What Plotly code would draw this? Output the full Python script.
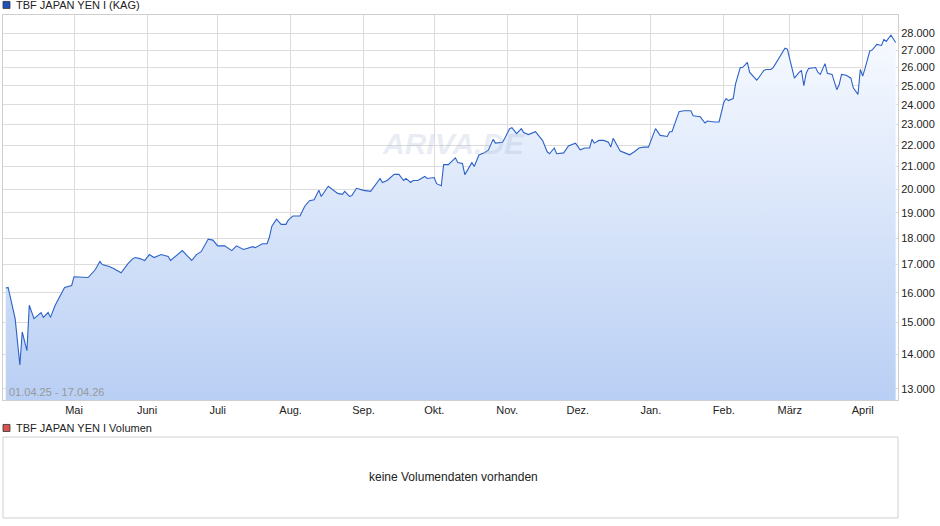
import numpy as np
import pandas as pd
import plotly.graph_objects as go

START = pd.Timestamp("2025-04-01")

# Tage seit 01.04.25 und Kurs
day_offsets = [1, 2, 5, 7, 8, 10, 11, 13, 16, 17, 19, 20, 22, 23, 25, 26, 29, 30, 36, 38,
               39, 41, 42, 45, 47, 50, 53, 55, 56, 58, 60, 62, 64, 67, 70, 71, 76, 80, 82, 84,
               86, 87, 89, 91, 94, 97, 99, 102, 106, 107, 110, 112, 113, 114, 116, 118, 120, 121, 123, 126,
               128, 130, 132, 134, 135, 138, 142, 144, 145, 147, 148, 150, 153, 156, 160, 161, 163, 166, 168, 170,
               171, 173, 174, 176, 179, 180, 183, 184, 186, 187, 189, 192, 193, 195, 196, 198, 199, 200, 202, 204,
               206, 208, 209, 212, 213, 215, 216, 218, 220, 221, 223, 226, 228, 229, 231, 232, 234, 235, 238, 240,
               243, 245, 247, 249, 250, 251, 253, 255, 257, 258, 259, 260, 262, 264, 266, 268, 270, 272, 274, 277,
               279, 282, 283, 284, 287, 289, 292, 293, 296, 298, 299, 302, 304, 306, 307, 308, 310, 311, 313, 314,
               316, 317, 319, 320, 321, 323, 324, 326, 327, 330, 332, 333, 335, 336, 338, 339, 340, 341, 342, 345,
               346, 347, 349, 350, 352, 354, 355, 356, 358, 360, 361, 363, 364, 365, 366, 368, 369, 371, 373, 374,
               375, 377, 379]
prices = [16160, 16180, 15130, 13690, 14700, 14120, 15570, 15130, 15330, 15170, 15330, 15170, 15570, 15730, 16040, 16180, 16250, 16560, 16530, 16700,
          16810, 17110, 17000, 16930, 16850, 16700, 17040, 17220, 17260, 17220, 17150, 17370, 17260, 17370, 17300, 17150, 17520, 17150, 17370, 17480,
          17780, 17960, 17920, 17700, 17700, 17520, 17700, 17560, 17670, 17630, 17780, 17780, 18040, 18460, 18750, 18540, 18540, 18710, 18880, 18880,
          19280, 19510, 19550, 19960, 19690, 20130, 19820, 19780, 19910, 19690, 19730, 20040, 19950, 19910, 20470, 20290, 20380, 20650, 20650, 20380,
          20470, 20290, 20380, 20380, 20560, 20470, 20510, 20240, 20150, 21090, 21090, 21400, 21180, 21140, 20640, 21000, 21180, 21000, 21530, 21620,
          21760, 22270, 22090, 22130, 22320, 22790, 22840, 22550, 22790, 22600, 22500, 22640, 22320, 22220, 21680, 21590, 21860, 21590, 21630, 21950,
          22090, 21770, 21860, 21860, 22270, 22090, 22220, 22220, 22130, 21900, 22320, 22130, 21720, 21630, 21540, 21680, 21860, 21900, 21900, 22790,
          22460, 22410, 22640, 22640, 23640, 23690, 23690, 23430, 23380, 23070, 23170, 23120, 23120, 24110, 24320, 24210, 24320, 25100, 26000, 26000,
          26290, 25730, 25460, 25300, 25460, 25840, 25890, 25890, 26000, 26630, 27110, 27050, 26050, 25410, 25730, 25840, 25000, 25680, 25950, 26000,
          25730, 25620, 26220, 25680, 25620, 24790, 25050, 25620, 25570, 25410, 24890, 24540, 25890, 25520, 25950, 26940, 27000, 27330, 27270, 27630,
          27510, 27880, 27440]

month_ticks = ["2025-05-01", "2025-06-01", "2025-07-01", "2025-08-01", "2025-09-01", "2025-10-01",
               "2025-11-01", "2025-12-01", "2026-01-01", "2026-02-01", "2026-03-01", "2026-04-01"]
month_labels = ["Mai", "Juni", "Juli", "Aug.", "Sep.", "Okt.", "Nov.", "Dez.", "Jan.", "Feb.", "März", "April"]
price_ticks = list(range(13000, 28001, 1000))
price_labels = [f"{v // 1000}.000" for v in price_ticks]

dates = [START + pd.Timedelta(days=d) for d in day_offsets]
Y_LO, Y_HI = 12694, 29120
GRID = "#dcdcdc"

fig = go.Figure()
fig.add_trace(go.Scatter(x=dates, y=[Y_LO] * len(dates), mode="lines", line=dict(width=0),
                         hoverinfo="skip", showlegend=False))
fig.add_trace(go.Scatter(x=dates, y=prices, mode="lines", fill="tonexty",
                         line=dict(color="#2c62c8", width=1.1),
                         fillgradient=dict(type="vertical",
                                           colorscale=[[0, "#b9cff4"], [1, "#f7faff"]]),
                         showlegend=False, name="TBF JAPAN YEN I"))

fig.update_layout(
    width=940, height=526, paper_bgcolor="white", plot_bgcolor="white",
    margin=dict(l=3, r=42, t=15, b=8), showlegend=False,
    font=dict(family="Liberation Sans, Arial", size=11, color="#222"),
    xaxis=dict(type="date", domain=[0, 1], range=["2025-03-31 20:00", "2026-04-16 00:00"],
               tickvals=month_ticks, ticktext=month_labels, showgrid=True, gridcolor=GRID,
               ticks="", showline=True, linecolor="#cfcfcf", mirror=True),
    yaxis=dict(type="log", domain=[0.2346, 1], range=[np.log10(Y_LO), np.log10(Y_HI)],
               tickvals=price_ticks, ticktext=price_labels, side="right", showgrid=True,
               gridcolor=GRID, ticks="", showline=True, linecolor="#cfcfcf", mirror=True),
)

# Volumen-Kasten
fig.add_shape(type="rect", xref="paper", yref="paper", x0=0, x1=1, y0=0, y1=0.161,
              line=dict(color="#d0d0d0", width=1))
# Legendenkästchen
fig.add_shape(type="rect", xref="paper", yref="paper", x0=0, x1=0.0078, y0=1.013, y1=1.027,
              fillcolor="#1f4fbf", line=dict(color="#333", width=0.8))
fig.add_shape(type="rect", xref="paper", yref="paper", x0=0, x1=0.0078, y0=0.172, y1=0.186,
              fillcolor="#d9534f", line=dict(color="#333", width=0.8))

anns = [
    dict(x=0.012, y=1.02, text="TBF JAPAN YEN I (KAG)", xanchor="left"),
    dict(x=0.012, y=0.179, text="TBF JAPAN YEN I Volumen", xanchor="left"),
    dict(x=0.503, y=0.081, text="keine Volumendaten vorhanden", xanchor="center", font=dict(size=12)),
    dict(x=0.005, y=0.25, text="01.04.25 - 17.04.26", xanchor="left", font=dict(size=11, color="#999")),
    dict(x=0.503, y=0.745, text="<i><b>ARIVA.DE</b></i>", xanchor="center",
         font=dict(size=30, color="rgba(150,170,205,0.22)")),
]
for a in anns:
    a.setdefault("font", dict(size=11, color="#222"))
    fig.add_annotation(xref="paper", yref="paper", yanchor="middle", showarrow=False, **a)

fig.write_html("out.html", config={"displayModeBar": False},
               post_script="document.body.style.margin='0';")
